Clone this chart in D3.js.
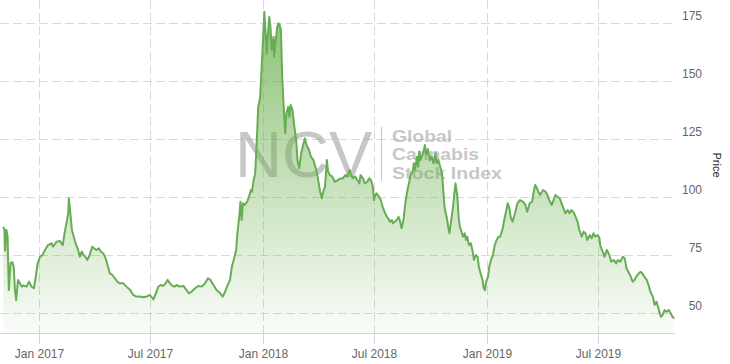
<!DOCTYPE html>
<html>
<head>
<meta charset="utf-8">
<script src="https://cdn.jsdelivr.net/npm/d3@7/dist/d3.min.js"></script>
<style>
  body { margin: 0; background: #fff; }
  svg { display: block; font-family: "Liberation Sans", Arial, sans-serif; }
</style>
</head>
<body>
<svg id="chart" width="730" height="364"></svg>
<script>
  // index values
  var dates = [
    "2016-11-03","2016-11-05","2016-11-06","2016-11-08","2016-11-10","2016-11-12","2016-11-15","2016-11-18",
    "2016-11-20","2016-11-22","2016-11-24","2016-11-27","2016-11-30","2016-12-03","2016-12-06","2016-12-11",
    "2016-12-15","2016-12-19","2016-12-23","2016-12-26","2016-12-29","2017-01-02","2017-01-06","2017-01-10",
    "2017-01-15","2017-01-21","2017-01-23","2017-01-29","2017-02-03","2017-02-08","2017-02-11","2017-02-14",
    "2017-02-17","2017-02-18","2017-02-21","2017-02-23","2017-02-26","2017-03-01","2017-03-05","2017-03-08",
    "2017-03-11","2017-03-14","2017-03-19","2017-03-20","2017-03-24","2017-03-28","2017-03-31","2017-04-04",
    "2017-04-08","2017-04-11","2017-04-15","2017-04-19","2017-04-22","2017-04-26","2017-04-30","2017-05-04",
    "2017-05-08","2017-05-12","2017-05-18","2017-05-23","2017-05-29","2017-06-03","2017-06-08","2017-06-14",
    "2017-06-19","2017-06-25","2017-06-30","2017-07-06","2017-07-10","2017-07-14","2017-07-18","2017-07-22",
    "2017-07-26","2017-07-29","2017-08-02","2017-08-06","2017-08-10","2017-08-13","2017-08-18","2017-08-24",
    "2017-08-29","2017-09-02","2017-09-06","2017-09-12","2017-09-17","2017-09-23","2017-09-28","2017-10-03",
    "2017-10-07","2017-10-12","2017-10-17","2017-10-23","2017-10-27","2017-10-31","2017-11-03","2017-11-08",
    "2017-11-11","2017-11-14","2017-11-18","2017-11-20","2017-11-23","2017-11-25","2017-11-27","2017-11-29",
    "2017-12-02","2017-12-06","2017-12-09","2017-12-12","2017-12-14","2017-12-16","2017-12-19","2017-12-21",
    "2017-12-24","2017-12-27","2017-12-31","2018-01-03","2018-01-05","2018-01-07","2018-01-08","2018-01-11",
    "2018-01-13","2018-01-15","2018-01-18","2018-01-19","2018-01-21","2018-01-24","2018-01-26","2018-01-28",
    "2018-01-30","2018-02-01","2018-02-03","2018-02-06","2018-02-08","2018-02-11","2018-02-13","2018-02-15",
    "2018-02-18","2018-02-21","2018-02-24","2018-02-26","2018-03-01","2018-03-04","2018-03-08","2018-03-10",
    "2018-03-13","2018-03-17","2018-03-20","2018-03-24","2018-03-28","2018-03-31","2018-04-04","2018-04-07",
    "2018-04-09","2018-04-12","2018-04-15","2018-04-17","2018-04-20","2018-04-24","2018-04-28","2018-05-03",
    "2018-05-06","2018-05-11","2018-05-15","2018-05-18","2018-05-22","2018-05-24","2018-05-27","2018-05-31",
    "2018-06-04","2018-06-07","2018-06-09","2018-06-13","2018-06-16","2018-06-20","2018-06-23","2018-06-26",
    "2018-06-29","2018-07-01","2018-07-03","2018-07-05","2018-07-09","2018-07-12","2018-07-15","2018-07-18",
    "2018-07-22","2018-07-24","2018-07-27","2018-07-30","2018-08-01","2018-08-04","2018-08-07","2018-08-10",
    "2018-08-12","2018-08-15","2018-08-18","2018-08-21","2018-08-24","2018-08-28","2018-08-30","2018-09-02",
    "2018-09-04","2018-09-06","2018-09-09","2018-09-11","2018-09-13","2018-09-15","2018-09-19","2018-09-22",
    "2018-09-24","2018-09-27","2018-09-30","2018-10-03","2018-10-06","2018-10-09","2018-10-11","2018-10-14",
    "2018-10-17","2018-10-20","2018-10-22","2018-10-24","2018-10-26","2018-10-28","2018-10-30","2018-11-01",
    "2018-11-04","2018-11-07","2018-11-09","2018-11-11","2018-11-14","2018-11-16","2018-11-18","2018-11-20",
    "2018-11-23","2018-11-26","2018-11-28","2018-11-30","2018-12-03","2018-12-06","2018-12-09","2018-12-11",
    "2018-12-14","2018-12-17","2018-12-19","2018-12-22","2018-12-25","2018-12-27","2018-12-29","2018-12-31",
    "2019-01-03","2019-01-05","2019-01-08","2019-01-11","2019-01-14","2019-01-17","2019-01-20","2019-01-23",
    "2019-01-27","2019-01-30","2019-02-02","2019-02-04","2019-02-07","2019-02-09","2019-02-12","2019-02-16",
    "2019-02-20","2019-02-24","2019-03-01","2019-03-05","2019-03-08","2019-03-12","2019-03-16","2019-03-18",
    "2019-03-21","2019-03-24","2019-03-26","2019-03-29","2019-04-01","2019-04-03","2019-04-07","2019-04-10",
    "2019-04-13","2019-04-17","2019-04-20","2019-04-23","2019-04-26","2019-04-30","2019-05-03","2019-05-06",
    "2019-05-09","2019-05-13","2019-05-16","2019-05-19","2019-05-22","2019-05-26","2019-05-29","2019-06-01",
    "2019-06-05","2019-06-08","2019-06-11","2019-06-14","2019-06-18","2019-06-21","2019-06-24","2019-06-27",
    "2019-07-01","2019-07-04","2019-07-05","2019-07-09","2019-07-12","2019-07-16","2019-07-20","2019-07-23",
    "2019-07-27","2019-07-31","2019-08-03","2019-08-07","2019-08-11","2019-08-14","2019-08-17","2019-08-20",
    "2019-08-24","2019-08-27","2019-08-30","2019-09-02","2019-09-06","2019-09-09","2019-09-12","2019-09-15",
    "2019-09-19","2019-09-22","2019-09-25","2019-09-29","2019-10-02","2019-10-05","2019-10-08","2019-10-12",
    "2019-10-15","2019-10-18","2019-10-21","2019-10-25","2019-10-28","2019-10-31","2019-11-03"
  ];

  var prices = [
    87.3, 86, 77, 86, 83, 60, 71.7, 72,
    70, 60, 55.7, 64.4, 63, 61.5, 62, 61.5,
    63.6, 61.5, 60.8, 65.8, 71.5, 74.4, 75.1, 77.3,
    79.4, 80.2, 78.7, 80.9, 81.2, 79.4, 84.5, 88.8,
    93.1, 99.6, 91.6, 85.9, 83, 80.2, 77.3, 74.4,
    76.6, 75.1, 73.7, 73, 75.1, 78.7, 78, 77.3,
    78, 76.6, 75.9, 73.7, 70.8, 67.2, 66.5, 65.1,
    63.6, 62.9, 62.9, 61.5, 60, 57.9, 57.2, 57.2,
    56.9, 57.2, 57.9, 56, 58.6, 61.5, 62.2, 61.8,
    62.9, 64.4, 62.9, 61.8, 61.5, 62.2, 61.5, 61.8,
    60, 58.6, 59.3, 60.8, 61.8, 61.5, 62.9, 65.1,
    64.4, 62.2, 60, 58.6, 57.2, 59.3, 61.5, 64.4,
    70.1, 73, 77.3, 84.5, 91.6, 98.1, 90.2, 97.4,
    96.7, 98.1, 100.3, 103.1, 102.4, 106.7, 110.3, 120.4,
    139, 142.7, 163.5, 180, 170.7, 162, 167.8, 177.8,
    173.5, 163.5, 169.2, 160.6, 166.3, 173.5, 175, 174.3,
    172.1, 153.4, 142, 127.6, 136.2, 139, 134.7, 139.8,
    137.6, 130.4, 124.7, 116.1, 112.5, 119, 123.3, 125.4,
    122.5, 120.4, 117.5, 116.1, 112.5, 108.9, 102.4, 99.6,
    102.4, 104.6, 116.1, 111, 109.6, 108.9, 106.7, 107.4,
    108, 108.2, 109.6, 108.9, 111.8, 110.3, 108.2, 108.9,
    107.4, 106, 109.6, 108.2, 106, 106.7, 108.2, 107.4,
    104.6, 98.8, 101, 101.7, 100.3, 98.8, 96, 93.8,
    91.6, 91, 89.5, 90.2, 88.8, 89.5, 90.2, 91.6,
    90.2, 86.6, 90.2, 97.4, 102.4, 107.4, 110.3, 111,
    114.7, 111.8, 117.5, 113.2, 119.7, 116.1, 119, 122.5,
    118.5, 120.8, 116, 117.5, 114.7, 119, 114.7, 116.1,
    113.2, 110.3, 103.1, 96, 93.1, 91, 87.3, 84.5,
    90.2, 96, 101.7, 106, 100.3, 91.6, 87.3, 85.9,
    83, 84.5, 81.6, 83, 79.4, 80.2, 76.6, 73,
    75.1, 74.4, 70.1, 67.2, 64.4, 60.8, 60, 63.6,
    65.8, 70.1, 73, 75.1, 79.4, 81.6, 83, 83,
    86.6, 91, 94.5, 97.4, 95.3, 91.5, 89.5, 93.1,
    97.4, 98.8, 98.1, 96.7, 93.8, 97.4, 98.1, 101.7,
    105.3, 103.9, 102.4, 101, 102.4, 103.1, 102.4, 101,
    98.8, 96.7, 98.8, 101, 100.3, 99.6, 97.4, 95.3,
    93.1, 94.5, 93.1, 94.5, 93.8, 91.6, 89.5, 85.9,
    83, 85.2, 84.5, 81.6, 83.7, 82.3, 84.5, 83,
    83.7, 82.3, 79.4, 76.6, 74.4, 77.3, 75.1, 72.2,
    73, 71.5, 73, 72.2, 74.4, 73.7, 69.4, 67.9,
    65.8, 63.6, 64.4, 65.8, 67.2, 67.9, 67.2, 65.8,
    64.4, 62.2, 59.3, 57.2, 53.6, 55, 52.2, 48.5,
    49.3, 51.4, 50.7, 51.4, 50, 48.5, 47.8
  ];

  var yTicks = [50, 75, 100, 125, 150, 175];
  var xTicks = ["2017-01-01", "2017-07-01", "2018-01-01", "2018-07-01", "2019-01-01", "2019-07-01"];
  var xTickLabels = ["Jan 2017", "Jul 2017", "Jan 2018", "Jul 2018", "Jan 2019", "Jul 2019"];
  var axisTitle = "Price";
  var brandMark = "NCV";
  var brandLines = ["Global", "Cannabis", "Stock Index"];

  var parse = d3.timeParse("%Y-%m-%d");
  var data = dates.map(function (d, i) {
    return { date: parse(d), price: prices[i] };
  });

  var plot = { left: 0, right: 675, top: 0, bottom: 333.5 };
  var gridColor = "#d9d9d9";
  var lineColor = "#67ad55";

  var svg = d3.select("#chart");

  var x = d3.scaleTime()
    .domain(d3.extent(data, function (d) { return d.date; }))
    .range([3.3, 674.3]);

  // 50 -> 313.3 and 175 -> 23.3, the rest extends from there
  var y = d3.scaleLinear()
    .domain([50, 175])
    .range([313.3, 23.3]);

  // gradient for the area
  var defs = svg.append("defs");
  var grad = defs.append("linearGradient")
    .attr("id", "areaFill")
    .attr("gradientUnits", "userSpaceOnUse")
    .attr("x1", 0).attr("y1", plot.top)
    .attr("x2", 0).attr("y2", plot.bottom);
  grad.append("stop").attr("offset", 0).attr("stop-color", "#6ab04c").attr("stop-opacity", 0.8);
  grad.append("stop").attr("offset", 1).attr("stop-color", "#6ab04c").attr("stop-opacity", 0.03);

  // horizontal grid
  svg.append("g")
    .selectAll("line")
    .data(yTicks)
    .join("line")
    .attr("x1", plot.left)
    .attr("x2", plot.right)
    .attr("y1", function (d) { return Math.round(y(d)) + 0.5; })
    .attr("y2", function (d) { return Math.round(y(d)) + 0.5; })
    .attr("stroke", gridColor)
    .attr("stroke-dasharray", "9,4");

  // vertical grid
  svg.append("g")
    .selectAll("line")
    .data(xTicks)
    .join("line")
    .attr("x1", function (d) { return Math.round(x(parse(d))) + 0.5; })
    .attr("x2", function (d) { return Math.round(x(parse(d))) + 0.5; })
    .attr("y1", plot.top)
    .attr("y2", plot.bottom)
    .attr("stroke", gridColor)
    .attr("stroke-dasharray", "9,4");

  // watermark
  var wm = svg.append("g").attr("fill", "#9a9a9a").attr("opacity", 0.55);
  wm.append("text")
    .attr("x", 235)
    .attr("y", 177)
    .attr("font-size", 65)
    .text(brandMark);
  wm.append("line")
    .attr("x1", 381.5).attr("x2", 381.5)
    .attr("y1", 127).attr("y2", 181)
    .attr("stroke", "#9a9a9a")
    .attr("stroke-width", 1);
  // text is stretched to the width of the logo lines
  var brandWidths = [60, 87, 110];
  wm.selectAll("text.sub")
    .data(brandLines)
    .join("text")
    .attr("class", "sub")
    .attr("x", 392)
    .attr("y", function (d, i) { return 142 + i * 18.4; })
    .attr("font-size", 16)
    .attr("font-weight", "bold")
    .attr("textLength", function (d, i) { return brandWidths[i]; })
    .attr("lengthAdjust", "spacingAndGlyphs")
    .text(function (d) { return d; });

  // area + line
  var area = d3.area()
    .x(function (d) { return x(d.date); })
    .y0(plot.bottom)
    .y1(function (d) { return y(d.price); });

  var line = d3.line()
    .x(function (d) { return x(d.date); })
    .y(function (d) { return y(d.price); });

  svg.append("path")
    .datum(data)
    .attr("d", area)
    .attr("fill", "url(#areaFill)");

  svg.append("path")
    .datum(data)
    .attr("d", line)
    .attr("fill", "none")
    .attr("stroke", lineColor)
    .attr("stroke-width", 2)
    .attr("stroke-linejoin", "round");

  // x axis line + ticks
  svg.append("line")
    .attr("x1", plot.left)
    .attr("x2", plot.right)
    .attr("y1", plot.bottom)
    .attr("y2", plot.bottom)
    .attr("stroke", "#ccd6eb");

  var xAxis = svg.append("g")
    .selectAll("g")
    .data(xTicks)
    .join("g")
    .attr("transform", function (d) { return "translate(" + (Math.round(x(parse(d))) + 0.5) + ",0)"; });
  xAxis.append("line")
    .attr("y1", plot.bottom)
    .attr("y2", plot.bottom + 10)
    .attr("stroke", "#ccd6eb");
  xAxis.append("text")
    .attr("y", 358)
    .attr("text-anchor", "middle")
    .attr("font-size", 12)
    .attr("fill", "#666")
    .text(function (d, i) { return xTickLabels[i]; });

  // y labels on the right
  svg.append("g")
    .selectAll("text")
    .data(yTicks)
    .join("text")
    .attr("x", 702)
    .attr("y", function (d) { return y(d) - 3; })
    .attr("text-anchor", "end")
    .attr("font-size", 12)
    .attr("fill", "#666")
    .text(function (d) { return d; });

  svg.append("text")
    .attr("transform", "translate(713,165) rotate(90)")
    .attr("text-anchor", "middle")
    .attr("font-size", 11)
    .attr("fill", "#222")
    .text(axisTitle);
</script>
</body>
</html>
